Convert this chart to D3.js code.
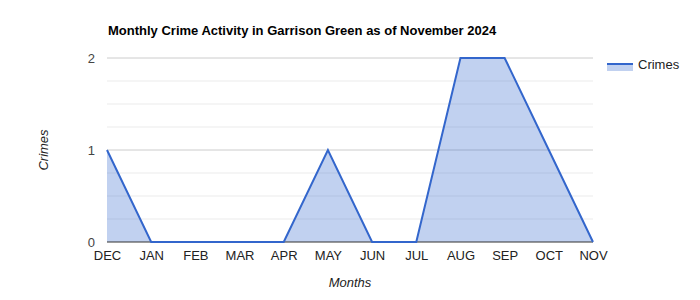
<!DOCTYPE html>
<html>
<head>
<meta charset="utf-8">
<script src="https://cdn.jsdelivr.net/npm/d3@7"></script>
<style>
  body { margin: 0; background: #fff; }
  text { font-family: "Liberation Sans", Arial, sans-serif; }
</style>
</head>
<body>
<script>
"use strict";

// Chart data
const months = ["DEC", "JAN", "FEB", "MAR", "APR", "MAY", "JUN", "JUL", "AUG", "SEP", "OCT", "NOV"];
const crimes = [1, 0, 0, 0, 0, 1, 0, 0, 2, 2, 1, 0];
const yTicks = [0, 1, 2];
const yGrid = [0.25, 0.5, 0.75, 1.25, 1.5, 1.75];

const w = 700;
const h = 300;
const margin = { top: 58, bottom: 58, left: 107, right: 107 };

const svg = d3.select("body").append("svg").attr("width", w).attr("height", h);

const x = d3.scalePoint().domain(months).range([margin.left, w - margin.right]);
const y = d3.scaleLinear().domain([0, 2]).range([h - margin.bottom, margin.top]);

//Minor gridlines
svg.append("g")
  .selectAll("line")
  .data(yGrid)
  .join("line")
  .attr("x1", margin.left)
  .attr("x2", w - margin.right)
  .attr("y1", (d) => y(d))
  .attr("y2", (d) => y(d))
  .attr("stroke", "#ebebeb");

//Major gridlines
svg.append("g")
  .selectAll("line")
  .data(yTicks.filter((d) => d !== 0))
  .join("line")
  .attr("x1", margin.left)
  .attr("x2", w - margin.right)
  .attr("y1", (d) => y(d))
  .attr("y2", (d) => y(d))
  .attr("stroke", "#cccccc");

//Area + line
const data = months.map((m, i) => ({ m, v: crimes[i] }));
const area = d3.area().x((d) => x(d.m)).y0(y(0)).y1((d) => y(d.v));
const line = d3.line().x((d) => x(d.m)).y((d) => y(d.v));

svg.append("path").datum(data).attr("d", area).attr("fill", "#3366cc").attr("fill-opacity", 0.3);

//Baseline
svg.append("line")
  .attr("x1", margin.left)
  .attr("x2", w - margin.right)
  .attr("y1", y(0))
  .attr("y2", y(0))
  .attr("stroke", "#333333");

svg.append("path").datum(data).attr("d", line)
  .attr("fill", "none").attr("stroke", "#3366cc").attr("stroke-width", 2);

//Y axis labels
const yAxis = d3.axisLeft(y).tickValues(yTicks).tickSize(0).tickPadding(12).tickFormat(d3.format("d"));
svg.append("g")
  .attr("transform", `translate(${margin.left}, 0)`)
  .call(yAxis)
  .call((g) => g.select(".domain").remove())
  .call((g) => g.selectAll("text").attr("font-size", 13).attr("fill", "#444").attr("font-family", "Liberation Sans, Arial, sans-serif"));

//X axis labels
const xAxis = d3.axisBottom(x).tickSize(0).tickPadding(9);
svg.append("g")
  .attr("transform", `translate(0, ${y(0)})`)
  .call(xAxis)
  .call((g) => g.select(".domain").remove())
  .call((g) => g.selectAll("text").attr("font-size", 13).attr("fill", "#222").attr("font-family", "Liberation Sans, Arial, sans-serif"));

//Title
svg.append("text")
  .attr("x", 108)
  .attr("y", 35)
  .attr("font-size", 13)
  .attr("font-weight", "bold")
  .attr("fill", "#000")
  .text("Monthly Crime Activity in Garrison Green as of November 2024");

//Axis titles
svg.append("text")
  .attr("x", (margin.left + w - margin.right) / 2)
  .attr("y", 287)
  .attr("text-anchor", "middle")
  .attr("font-size", 13)
  .attr("font-style", "italic")
  .attr("fill", "#222")
  .text("Months");

svg.append("text")
  .attr("transform", `translate(48, ${(y(0) + y(2)) / 2}) rotate(-90)`)
  .attr("text-anchor", "middle")
  .attr("font-size", 13)
  .attr("font-style", "italic")
  .attr("fill", "#222")
  .text("Crimes");

//Legend
const legend = svg.append("g").attr("transform", "translate(607, 64)");
legend.append("rect").attr("x", 0).attr("y", 0).attr("width", 26).attr("height", 7)
  .attr("fill", "#3366cc").attr("fill-opacity", 0.3);
legend.append("line").attr("x1", 0).attr("x2", 26).attr("y1", 0).attr("y2", 0)
  .attr("stroke", "#3366cc").attr("stroke-width", 2);
legend.append("text").attr("x", 31).attr("y", 5).attr("font-size", 13).attr("fill", "#222").text("Crimes");
</script>
</body>
</html>
